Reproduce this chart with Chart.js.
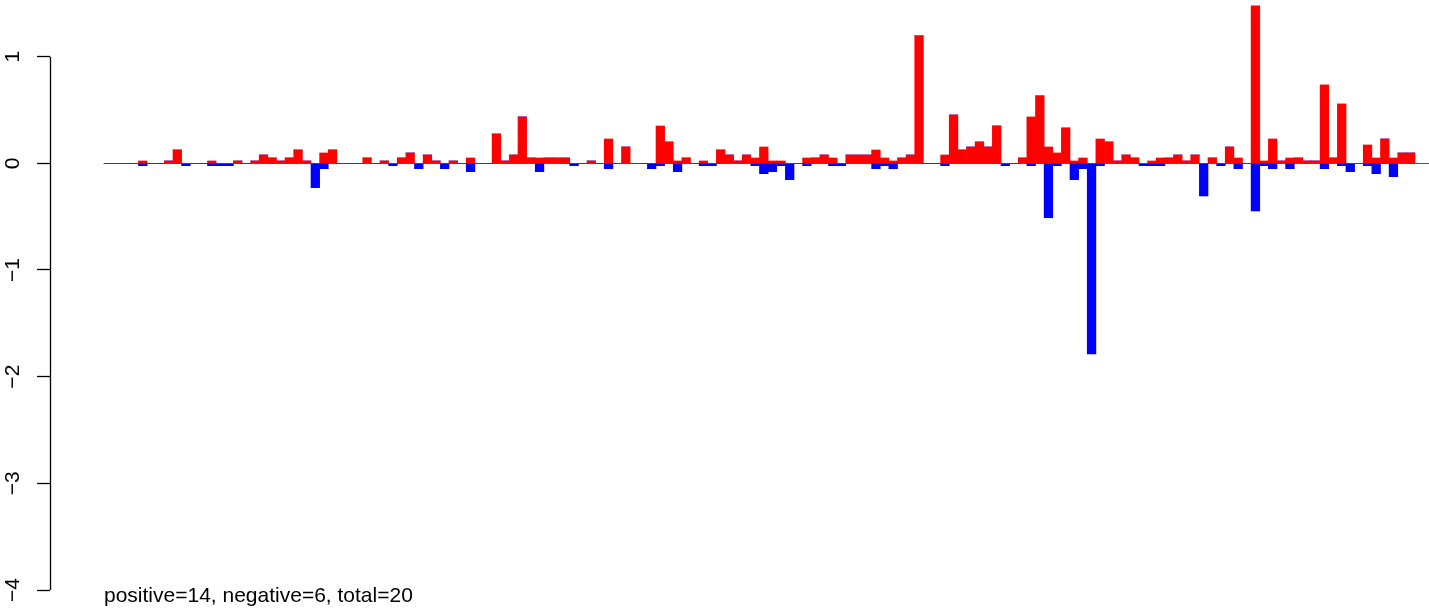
<!DOCTYPE html>
<html>
<head>
<meta charset="utf-8">
<script src="https://cdn.jsdelivr.net/npm/chart.js@4/dist/chart.umd.min.js"></script>
<style>
  html, body { margin: 0; padding: 0; background: #fff; }
</style>
</head>
<body>
<canvas id="chart" width="1429" height="609"></canvas>
<script>
// One value per slot, read left to right off the plot (152 slots)
const positive = [
  0, 0, 0, 0, 0.022, 0, 0, 0.022, 0.125, 0,
  0, 0, 0.022, 0, 0, 0.022, 0, 0.022, 0.078, 0.05,
  0.022, 0.05, 0.125, 0.022, 0, 0.097, 0.125, 0, 0, 0,
  0.05, 0, 0.022, 0, 0.05, 0.097, 0, 0.078, 0.022, 0,
  0.022, 0, 0.05, 0, 0, 0.275, 0.022, 0.078, 0.435, 0.05,
  0.05, 0.05, 0.05, 0.05, 0, 0, 0.022, 0, 0.228, 0,
  0.153, 0, 0, 0, 0.35, 0.2, 0.022, 0.05, 0, 0.022,
  0, 0.125, 0.078, 0.022, 0.078, 0.05, 0.153, 0.022, 0.022, 0,
  0, 0.05, 0.05, 0.078, 0.05, 0, 0.078, 0.078, 0.078, 0.125,
  0.05, 0.022, 0.05, 0.078, 1.195, 0, 0, 0.078, 0.453, 0.125,
  0.153, 0.2, 0.153, 0.35, 0, 0, 0.05, 0.435, 0.632, 0.153,
  0.097, 0.331, 0.022, 0.05, 0, 0.228, 0.2, 0.022, 0.078, 0.05,
  0, 0.022, 0.05, 0.05, 0.078, 0.022, 0.078, 0, 0.05, 0,
  0.153, 0.05, 0, 1.476, 0.022, 0.228, 0.022, 0.05, 0.05, 0.022,
  0.022, 0.735, 0.05, 0.557, 0, 0, 0.172, 0.05, 0.228, 0.05,
  0.097, 0.097
];
const negative = [
  0, 0, 0, 0, -0.022, 0, 0, 0, 0, -0.022,
  0, 0, -0.022, -0.022, -0.022, 0, 0, 0, 0, 0,
  0, 0, 0, 0, -0.228, -0.05, 0, 0, 0, 0,
  0, 0, 0, -0.022, 0, 0, -0.05, 0, 0, -0.05,
  0, 0, -0.078, 0, 0, 0, 0, 0, 0, 0,
  -0.078, 0, 0, 0, -0.022, 0, 0, 0, -0.05, 0,
  0, 0, 0, -0.05, -0.022, 0, -0.078, 0, 0, -0.022,
  -0.022, 0, 0, 0, 0, -0.022, -0.097, -0.078, -0.022, -0.153,
  0, -0.022, 0, 0, -0.022, -0.022, 0, 0, 0, -0.05,
  -0.022, -0.05, 0, 0, 0, 0, 0, -0.022, 0, 0,
  0, 0, 0, 0, -0.022, 0, 0, -0.022, 0, -0.51,
  -0.022, 0, -0.153, -0.05, -1.786, -0.022, 0, 0, 0, 0,
  -0.022, -0.022, -0.022, 0, 0, 0, 0, -0.306, 0, -0.022,
  0, -0.05, 0, -0.447, -0.022, -0.05, 0, -0.05, 0, 0,
  0, -0.05, 0, -0.022, -0.078, 0, -0.022, -0.097, 0, -0.125,
  0, 0
];
const yTicks = [-4, -3, -2, -1, 0, 1];
const caption = 'positive=14, negative=6, total=20';

const FONT = '"Liberation Sans", Arial, Helvetica, sans-serif';
Chart.defaults.font.family = FONT;

// bar centres sit in the middle of each unit slot
const toPoints = vals => vals.map((v, i) => ({ x: i + 0.5, y: v }));

// zero line, R-style axis line and the caption under the plot
const decor = {
  id: 'decor',
  beforeDatasetsDraw(chart) {
    const { ctx, chartArea, scales: { x, y } } = chart;
    const y0 = Math.round(y.getPixelForValue(0)) + 0.5;
    ctx.save();
    ctx.strokeStyle = '#555';
    ctx.lineWidth = 1;
    ctx.beginPath();
    ctx.moveTo(x.getPixelForValue(0), y0);
    ctx.lineTo(chartArea.right, y0);
    ctx.stroke();
    ctx.restore();
  },
  afterDraw(chart) {
    const { ctx, chartArea, scales: { x, y } } = chart;
    const ax = Math.round(chartArea.left) + 0.5;
    ctx.save();
    ctx.strokeStyle = '#000';
    ctx.lineWidth = 1.3;
    ctx.beginPath();
    ctx.moveTo(ax, y.getPixelForValue(yTicks[yTicks.length - 1]));
    ctx.lineTo(ax, y.getPixelForValue(yTicks[0]));
    ctx.stroke();

    ctx.fillStyle = '#000';
    ctx.font = '21px ' + FONT;
    ctx.textAlign = 'left';
    ctx.textBaseline = 'alphabetic';
    ctx.fillText(caption, x.getPixelForValue(0), 602);
    ctx.restore();
  }
};

new Chart(document.getElementById('chart'), {
  type: 'bar',
  data: {
    datasets: [
      { data: toPoints(positive), backgroundColor: '#FF0000', borderWidth: 0 },
      { data: toPoints(negative), backgroundColor: '#0000FF', borderWidth: 0 }
    ]
  },
  options: {
    responsive: false,
    animation: false,
    layout: { padding: 0 },
    barPercentage: 1,
    categoryPercentage: 1,
    plugins: { legend: { display: false }, tooltip: { enabled: false } },
    scales: {
      x: {
        type: 'linear',
        display: false,
        offset: false,
        stacked: true,
        min: -6.261,
        max: 153.623
      },
      y: {
        stacked: true,
        min: -4.178,
        max: 1.531,
        afterBuildTicks: s => { s.ticks = yTicks.map(v => ({ value: v })); },
        afterFit: s => { s.width = 50; s.paddingTop = 0; s.paddingBottom = 0; },
        border: { display: false },
        grid: { drawOnChartArea: false, tickLength: 13, tickColor: '#000', tickWidth: 1.3 },
        ticks: {
          autoSkip: false,
          minRotation: 90,
          maxRotation: 90,
          crossAlign: 'center',
          padding: 12,
          color: '#000',
          font: { size: 21 },
          callback: v => String(v).replace('-', '\u2212')
        }
      }
    }
  },
  plugins: [decor]
});
</script>
</body>
</html>
